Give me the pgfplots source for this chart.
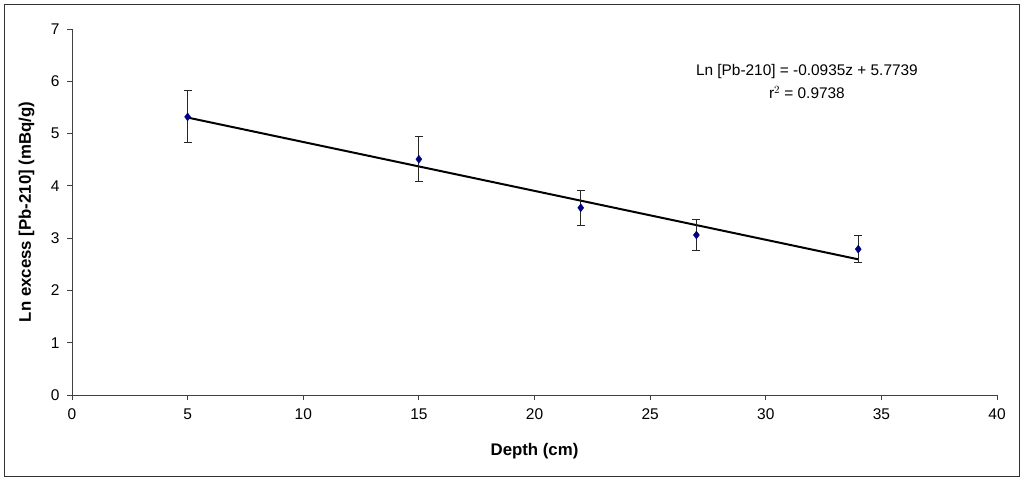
\documentclass[border=0pt]{standalone}
\usepackage{fontspec}
\setmainfont{Liberation Sans}
\usepackage{pgfplots}
\pgfplotsset{compat=1.18}
\definecolor{navyblue}{RGB}{0,0,128}
\begin{document}
\begin{tikzpicture}
\useasboundingbox (0pt,0pt) rectangle (1024pt,481pt);
\draw[line width=1pt, black!80] (4.5pt,4.5pt) rectangle (1019.5pt,476.5pt);
\begin{axis}[
  at={(72pt,86pt)}, anchor=south west,
  scale only axis, width=925pt, height=366pt,
  xmin=0, xmax=40, ymin=0, ymax=7,
  xtick={0,5,...,40}, ytick={0,1,...,7},
  axis x line=bottom, axis y line=left,
  axis line style={-, line width=0.8pt, black!75},
  tick style={line width=0.8pt, black!75},
  tick align=outside, major tick length=5pt,
  minor tick num=0,
  /pgf/number format/assume math mode=true,
  ticklabel style={font=\fontsize{15.5}{18}\selectfont},
  xticklabel style={yshift=-5pt},
  yticklabel style={xshift=-4pt},
  xlabel={\bfseries Depth (cm)},
  ylabel={\bfseries Ln excess [Pb-210] (mBq/g)},
  label style={font=\fontsize{16.8}{20}\selectfont},
  xlabel style={at={(axis description cs:0.5,0)}, anchor=north, yshift=-45pt},
  ylabel style={at={(axis description cs:0,0.5)}, anchor=south, yshift=34pt},
  clip=false,
]
\addplot[no marks, black, line width=2pt] coordinates {(5,5.3064) (34,2.5949)};
\addplot[only marks, mark=diamond*, mark size=4pt, color=navyblue,
  error bars/.cd, y dir=both, y explicit,
  error bar style={line width=1pt, black!85},
  error mark options={rotate=90, mark size=4pt, line width=1pt, black!85}]
  coordinates {
  (5,5.32) +- (0,0.50)
  (15,4.51) +- (0,0.43)
  (22,3.58) +- (0,0.34)
  (27,3.06) +- (0,0.29)
  (34,2.79) +- (0,0.26)
};
\node[font=\fontsize{15.4}{23}\selectfont, align=center] at (axis cs:31.78,6.0)
  {Ln [Pb-210] = -0.0935z + 5.7739\\ r$^{2}$ = 0.9738};
\end{axis}
\end{tikzpicture}
\end{document}
